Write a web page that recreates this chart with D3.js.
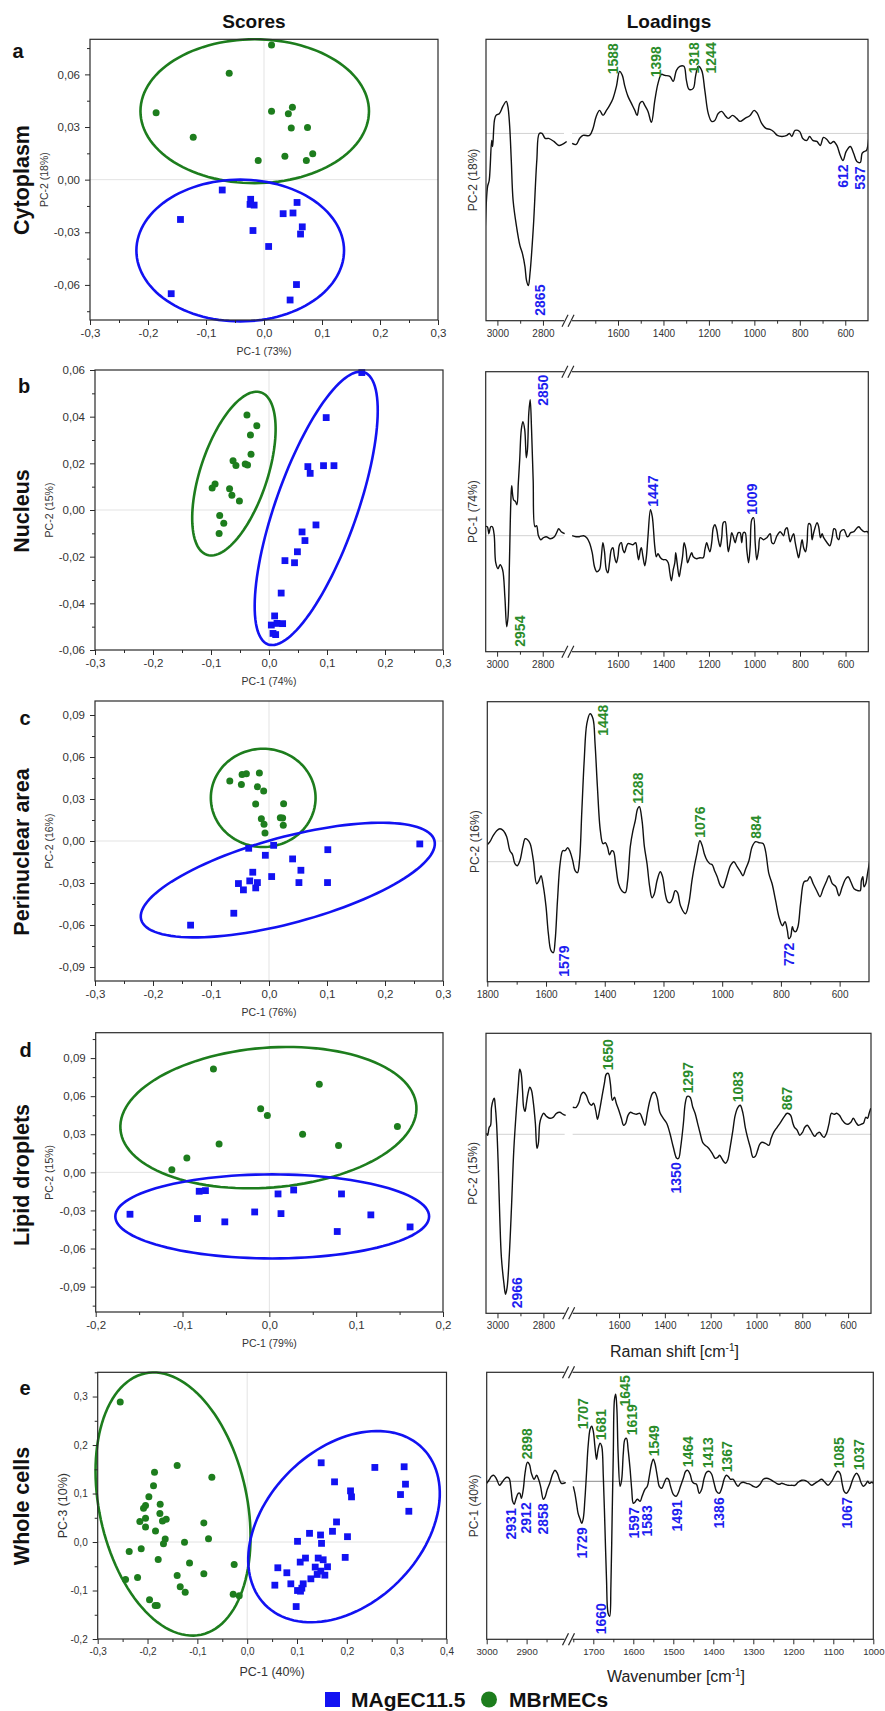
<!DOCTYPE html>
<html>
<head>
<meta charset="utf-8">
<script src="https://cdn.jsdelivr.net/npm/d3@7"></script>
<style>
  body { margin: 0; background: #fff; }
  svg { display: block; font-family: "Liberation Sans", Arial, sans-serif; }
</style>
</head>
<body>
<div id="chart"></div>
<script>
// ---------- scores (PC-x, PC-y) ----------
let aGreen = [[0.013,0.0768],[-0.060,0.0606],[-0.186,0.0381],[-0.122,0.0242],[0.013,0.039],[0.049,0.0413],[0.042,0.0375],[0.047,0.0295],[0.075,0.0297],[0.036,0.0133],[0.084,0.0147],[0.073,0.0109],[-0.010,0.0109]];
let aBlue = [[-0.072,-0.0059],[-0.144,-0.0227],[-0.023,-0.0112],[-0.024,-0.0141],[-0.017,-0.0145],[-0.019,-0.029],[-0.160,-0.065],[0.008,-0.0381],[0.033,-0.0194],[0.050,-0.019],[0.057,-0.013],[0.066,-0.0269],[0.063,-0.031],[0.056,-0.0598],[0.045,-0.0686]];
let aEllipses = [{grp:"g", c:[-0.016,0.039], u:[0.197,0], v:[0,0.041]}, {grp:"b", c:[-0.041,-0.0404], u:[0.179,0], v:[0,0.0404]}];

let bGreen = [[-0.038,0.0407],[-0.021,0.0361],[-0.032,0.0321],[-0.031,0.0239],[-0.062,0.0211],[-0.057,0.0191],[-0.041,0.0197],[-0.037,0.0193],[-0.093,0.0111],[-0.098,0.0094],[-0.068,0.0091],[-0.064,0.0063],[-0.051,0.0039],[-0.085,-0.0024],[-0.078,-0.0057],[-0.086,-0.0101]];
let bBlue = [[0.160,0.0589],[0.0986,0.0396],[0.067,0.0186],[0.071,0.0157],[0.094,0.019],[0.112,0.019],[0.081,-0.0064],[0.057,-0.0094],[0.062,-0.0131],[0.049,-0.0179],[0.044,-0.0226],[0.0275,-0.0217],[0.021,-0.0356],[0.0097,-0.0454],[0.004,-0.0493],[0.0138,-0.0486],[0.0235,-0.0487],[0.0069,-0.0529],[0.0115,-0.0534]];
let bEllipses = [{grp:"g", c:[-0.0605,0.0156], u:[0.0467,0.0348], v:[0.0547,-0.0046]}, {grp:"b", c:[0.0814,0.0007], u:[0.0829,0.0583], v:[0.0662,-0.0058]}];

let cGreen = [[-0.0676,0.0428],[-0.0464,0.0475],[-0.039,0.048],[-0.0166,0.0485],[-0.0476,0.0404],[-0.020,0.0387],[-0.0092,0.0357],[-0.023,0.0264],[0.0252,0.0266],[-0.0132,0.0159],[-0.0086,0.0119],[0.0195,0.0166],[0.0235,0.0164],[0.0246,0.0112],[-0.0069,0.0057]];
let cBlue = [[0.260,-0.0021],[-0.035,-0.0052],[0.008,-0.0031],[-0.0063,-0.0102],[0.0407,-0.0128],[0.1014,-0.0062],[0.055,-0.0209],[-0.028,-0.0223],[0.0046,-0.0254],[-0.0527,-0.0304],[-0.0332,-0.0285],[-0.020,-0.0297],[-0.0229,-0.0335],[-0.0441,-0.0349],[0.0516,-0.0297],[0.1009,-0.0297],[-0.0607,-0.0516],[-0.1352,-0.0601]];
let cEllipses = [{grp:"g", c:[-0.010,0.0308], u:[0.0903,0], v:[0,0.0351]}, {grp:"b", c:[0.0324,-0.0279], u:[0.2528,0.0283], v:[0.0193,-0.0296]}];

let dGreen = [[-0.0644,0.0815],[0.0575,0.0694],[-0.010,0.050],[-0.0023,0.0448],[0.1475,0.0362],[0.0383,0.0301],[-0.0579,0.0223],[0.0797,0.0212],[-0.095,0.0113],[-0.1123,0.0021]];
let dBlue = [[-0.1605,-0.033],[-0.0808,-0.0149],[-0.0736,-0.0144],[-0.0828,-0.0364],[-0.0513,-0.039],[-0.0169,-0.0312],[0.010,-0.017],[0.0134,-0.0325],[0.028,-0.0139],[0.0831,-0.017],[0.0782,-0.0466],[0.1169,-0.0335],[0.1621,-0.043]];
let dEllipses = [{grp:"g", c:[-0.0011,0.0431], u:[0.1704,0.0093], v:[0.0064,-0.0549]}, {grp:"b", c:[0.0033,-0.0347], u:[0.1807,0], v:[0,0.0331]}];

let eGreen = [[-0.2548,0.289],[-0.186,0.1441],[-0.1405,0.158],[-0.0709,0.1338],[-0.188,0.1159],[-0.1973,0.0931],[-0.1746,0.0779],[-0.204,0.0752],[-0.208,0.0697],[-0.1752,0.0586],[-0.2154,0.0421],[-0.204,0.049],[-0.170,0.0434],[-0.1625,0.0469],[-0.204,0.031],[-0.184,0.0228],[-0.087,0.0393],[-0.1645,0.0062],[-0.168,-0.0034],[-0.1258,-0.0007],[-0.0776,0.0069],[-0.2368,-0.0193],[-0.2127,-0.0138],[-0.1786,-0.0359],[-0.1157,-0.0434],[-0.0261,-0.0462],[-0.2441,-0.0772],[-0.220,-0.0731],[-0.1405,-0.069],[-0.087,-0.0655],[-0.1344,-0.0924],[-0.1244,-0.1034],[-0.0281,-0.1076],[-0.016,-0.111],[-0.196,-0.1193],[-0.1846,-0.131],[-0.1806,-0.131]];
let eBlue = [[0.1485,0.1634],[0.2562,0.1538],[0.315,0.1552],[0.1753,0.1241],[0.3177,0.1193],[0.2074,0.1055],[0.2094,0.0931],[0.3077,0.0979],[0.3244,0.0634],[0.1793,0.0414],[0.1712,0.0221],[0.2013,0.011],[0.1251,0.0179],[0.1472,0.0145],[0.1492,-0.0028],[0.101,0.0014],[0.1967,-0.0317],[0.117,-0.0331],[0.1425,-0.0331],[0.1525,-0.0366],[0.1064,-0.0414],[0.1365,-0.0517],[0.1612,-0.051],[0.0615,-0.0531],[0.1478,-0.06],[0.0796,-0.0634],[0.1405,-0.0669],[0.1559,-0.0683],[0.1278,-0.0759],[0.0876,-0.0862],[0.1124,-0.0862],[0.0555,-0.089],[0.1097,-0.0952],[0.101,-0.1],[0.107,-0.1014],[0.0983,-0.1331]];
let eEllipses = [{grp:"g", c:[-0.1488,0.0783], u:[-0.0565,0.2694], v:[-0.1449,-0.0323]}, {grp:"b", c:[0.1943,0.0317], u:[0.1585,0.161], v:[-0.1088,0.1139]}];

// ---------- loadings [wavenumber, loading] ----------
let aLoad = [[3054,-0.100],[3043,-0.053],[3036,-0.047],[3025,-0.007],[3021,-0.013],[3013,0.013],[3006,0.018],[2991,0.020],[2976,0.027],[2961,0.032],[2954,0.027],[2946,0.007],[2939,-0.027],[2931,-0.067],[2916,-0.093],[2901,-0.112],[2890,-0.120],[2879,-0.133],[2872,-0.147],[2864,-0.152],[2857,-0.140],[2842,-0.093],[2827,-0.027],[2816,0.000],[2804,0.000],[2790,-0.005],[2775,-0.005],[2752,-0.008],[2730,-0.012],[2715,-0.011],[2696,-0.008],
  [1802,-0.010],[1784,-0.011],[1769,-0.005],[1754,-0.002],[1725,-0.002],[1710,0.005],[1696,0.017],[1681,0.023],[1666,0.018],[1651,0.023],[1637,0.028],[1622,0.035],[1607,0.047],[1593,0.062],[1581,0.058],[1571,0.048],[1556,0.037],[1541,0.030],[1526,0.023],[1516,0.018],[1504,0.030],[1493,0.032],[1482,0.028],[1468,0.022],[1453,0.011],[1438,0.033],[1424,0.050],[1409,0.059],[1394,0.058],[1372,0.057],[1357,0.052],[1343,0.063],[1328,0.067],[1310,0.067],[1299,0.053],[1287,0.044],[1269,0.045],[1259,0.057],[1247,0.067],[1232,0.063],[1218,0.043],[1203,0.020],[1188,0.012],[1174,0.013],[1159,0.020],[1144,0.022],[1129,0.018],[1115,0.015],[1096,0.018],[1078,0.015],[1063,0.012],[1041,0.015],[1019,0.018],[1001,0.023],[987,0.020],[968,0.010],[949,0.005],[931,0.004],[916,0.002],[899,-0.002],[879,-0.003],[857,-0.002],[846,0.000],[835,-0.003],[821,0.003],[801,0.002],[787,-0.005],[769,-0.007],[757,-0.003],[743,-0.007],[725,-0.008],[710,-0.012],[696,-0.004],[681,-0.006],[666,-0.010],[651,-0.008],[637,-0.012],[622,-0.022],[610,-0.027],[596,-0.018],[578,-0.013],[563,-0.020],[549,-0.028],[534,-0.029],[526,-0.020],[516,-0.018],[507,-0.017],[497,-0.005]];

let bLoad = [[3055,0.009],[3043,0.009],[3036,0.002],[3028,0.009],[3021,0.009],[3013,0.001],[3006,-0.027],[2996,-0.033],[2987,-0.029],[2976,-0.034],[2966,-0.061],[2958,-0.091],[2952,-0.081],[2946,-0.027],[2940,0.033],[2936,0.050],[2928,0.036],[2919,0.034],[2913,0.031],[2907,0.053],[2901,0.076],[2894,0.106],[2887,0.114],[2879,0.106],[2872,0.078],[2867,0.086],[2861,0.123],[2855,0.136],[2849,0.106],[2842,0.056],[2834,0.009],[2827,0.010],[2819,0.000],[2809,-0.004],[2797,-0.002],[2785,-0.001],[2767,-0.003],[2749,-0.001],[2737,0.004],[2730,0.007],[2719,0.004],[2704,0.002],
  [1801,0],[1784,-0.001],[1769,-0.001],[1751,0],[1737,-0.002],[1725,-0.007],[1713,-0.017],[1703,-0.031],[1693,-0.036],[1681,-0.034],[1674,-0.024],[1666,-0.007],[1659,-0.016],[1651,-0.034],[1644,-0.037],[1637,-0.027],[1629,-0.014],[1622,-0.012],[1615,-0.021],[1607,-0.027],[1600,-0.021],[1593,-0.009],[1585,-0.007],[1578,-0.014],[1571,-0.017],[1563,-0.011],[1556,-0.008],[1549,-0.008],[1534,-0.009],[1522,-0.007],[1515,-0.017],[1509,-0.024],[1501,-0.014],[1497,-0.012],[1490,-0.021],[1482,-0.030],[1475,-0.021],[1468,-0.001],[1457,0.026],[1449,0.019],[1438,-0.011],[1431,-0.021],[1424,-0.018],[1413,-0.022],[1401,-0.024],[1390,-0.024],[1379,-0.027],[1372,-0.037],[1365,-0.045],[1357,-0.034],[1350,-0.027],[1346,-0.017],[1340,-0.027],[1331,-0.041],[1325,-0.034],[1316,-0.021],[1309,-0.007],[1301,-0.014],[1294,-0.027],[1284,-0.021],[1276,-0.017],[1269,-0.021],[1254,-0.023],[1240,-0.022],[1225,-0.022],[1218,-0.014],[1210,-0.007],[1203,-0.012],[1196,-0.016],[1188,-0.007],[1181,0.008],[1174,0.011],[1166,0.006],[1159,-0.004],[1151,-0.011],[1144,-0.002],[1137,0.013],[1129,0.014],[1122,0.001],[1115,-0.016],[1107,-0.007],[1100,0.003],[1093,-0.001],[1085,-0.007],[1078,-0.001],[1071,0.003],[1063,0.003],[1056,-0.007],[1049,0.003],[1041,0.003],[1034,-0.014],[1026,-0.027],[1019,-0.011],[1012,0.016],[1004,0.018],[997,-0.007],[990,-0.024],[982,-0.014],[975,-0.002],[960,-0.004],[946,-0.002],[931,0.002],[924,-0.007],[916,-0.008],[901,0],[887,0.004],[872,0],[865,0.006],[857,0.008],[850,0.001],[843,-0.006],[835,-0.001],[828,0.002],[821,-0.007],[813,-0.016],[806,-0.022],[799,-0.014],[791,-0.004],[784,-0.012],[776,-0.016],[769,-0.007],[762,0.012],[754,0.011],[747,-0.004],[740,0.003],[725,0.013],[718,0.009],[710,-0.002],[703,0.002],[696,-0.002],[681,-0.007],[669,-0.010],[659,-0.002],[651,0.007],[644,0.006],[637,-0.002],[629,-0.004],[622,0.004],[607,0.006],[600,0.003],[593,-0.001],[585,0],[578,0.003],[563,0.004],[549,0.008],[541,0.009],[534,0.007],[519,0.004],[504,0.004],[497,0.001]];

let cLoad = [[1800,0.017],[1791,0.020],[1780,0.026],[1768,0.031],[1757,0.033],[1745,0.031],[1734,0.025],[1723,0.011],[1714,0.007],[1706,-0.002],[1698,-0.004],[1689,0.001],[1679,0.015],[1671,0.023],[1663,0.022],[1654,0.018],[1643,0.001],[1632,-0.022],[1624,-0.019],[1617,-0.014],[1609,-0.025],[1600,-0.045],[1592,-0.072],[1583,-0.089],[1575,-0.091],[1569,-0.079],[1561,-0.039],[1552,-0.002],[1543,0.011],[1535,0.011],[1526,0.014],[1518,0.010],[1509,0.001],[1501,-0.009],[1493,-0.011],[1486,0.001],[1478,0.051],[1470,0.101],[1461,0.138],[1450,0.148],[1440,0.143],[1433,0.118],[1425,0.075],[1415,0.031],[1406,0.018],[1398,0.019],[1390,0.014],[1384,0.007],[1376,0.011],[1370,0.010],[1362,-0.005],[1353,-0.022],[1342,-0.029],[1330,-0.031],[1322,-0.019],[1313,0.015],[1304,0.031],[1296,0.041],[1288,0.053],[1282,0.055],[1273,0.041],[1265,0.015],[1256,-0.002],[1247,-0.025],[1239,-0.036],[1231,-0.032],[1222,-0.019],[1211,-0.010],[1203,-0.015],[1194,-0.032],[1186,-0.040],[1177,-0.041],[1169,-0.037],[1160,-0.029],[1152,-0.031],[1142,-0.044],[1125,-0.052],[1114,-0.042],[1103,-0.019],[1095,-0.005],[1086,0.008],[1076,0.021],[1068,0.016],[1061,0.008],[1051,0.001],[1042,-0.002],[1034,-0.003],[1026,-0.009],[1017,-0.015],[1006,-0.024],[997,-0.026],[989,-0.020],[981,-0.012],[972,-0.004],[960,0],[949,-0.005],[938,-0.010],[929,-0.014],[921,-0.008],[909,0.001],[898,0.015],[886,0.020],[875,0.019],[860,0.018],[852,0.010],[841,-0.012],[830,-0.022],[818,-0.039],[807,-0.055],[795,-0.064],[786,-0.060],[778,-0.069],[773,-0.077],[767,-0.075],[761,-0.065],[756,-0.069],[750,-0.070],[742,-0.065],[733,-0.042],[721,-0.020],[710,-0.019],[701,-0.015],[690,-0.022],[678,-0.029],[667,-0.035],[656,-0.027],[644,-0.019],[636,-0.014],[625,-0.022],[613,-0.025],[602,-0.034],[591,-0.025],[579,-0.017],[571,-0.015],[562,-0.020],[551,-0.027],[537,-0.029],[530,-0.029],[526,-0.019],[521,-0.015],[517,-0.025],[511,-0.022],[505,-0.012],[498,0]];

let dLoad = [[3048,0.001],[3043,-0.001],[3036,0.007],[3030,0.009],[3026,0.027],[3019,0.034],[3014,0.036],[3010,0.029],[3004,0.011],[2997,-0.029],[2990,-0.083],[2983,-0.123],[2972,-0.149],[2965,-0.160],[2958,-0.153],[2949,-0.123],[2939,-0.073],[2929,-0.016],[2917,0.027],[2909,0.051],[2903,0.065],[2897,0.061],[2891,0.044],[2886,0.027],[2880,0.023],[2874,0.031],[2867,0.041],[2859,0.047],[2852,0.044],[2845,0.034],[2835,0.011],[2828,-0.014],[2822,-0.009],[2816,0.011],[2809,0.017],[2799,0.021],[2787,0.018],[2772,0.016],[2758,0.017],[2743,0.021],[2729,0.022],[2714,0.020],[2703,0.019],
  [1802,0.027],[1787,0.027],[1775,0.032],[1765,0.040],[1755,0.042],[1743,0.039],[1732,0.032],[1721,0.029],[1711,0.031],[1702,0.024],[1694,0.015],[1685,0.024],[1675,0.037],[1664,0.051],[1656,0.060],[1647,0.061],[1638,0.051],[1629,0.034],[1620,0.037],[1612,0.031],[1601,0.024],[1590,0.016],[1580,0.009],[1571,0.011],[1561,0.019],[1550,0.022],[1539,0.021],[1524,0.020],[1509,0.021],[1499,0.016],[1487,0.009],[1477,0.021],[1465,0.034],[1454,0.041],[1444,0.042],[1433,0.036],[1422,0.022],[1407,0.016],[1392,0.011],[1378,0.001],[1363,-0.013],[1348,-0.024],[1340,-0.024],[1331,-0.013],[1319,0.011],[1311,0.031],[1302,0.038],[1290,0.037],[1278,0.027],[1268,0.021],[1258,0.012],[1246,0.001],[1235,-0.008],[1224,-0.011],[1213,-0.013],[1202,-0.016],[1191,-0.020],[1180,-0.024],[1169,-0.023],[1161,-0.021],[1154,-0.023],[1144,-0.027],[1135,-0.029],[1126,-0.026],[1115,-0.013],[1103,0.004],[1093,0.019],[1081,0.027],[1071,0.029],[1059,0.021],[1049,0.007],[1039,-0.003],[1027,-0.013],[1015,-0.023],[1005,-0.022],[995,-0.016],[986,-0.010],[976,-0.008],[961,-0.009],[946,-0.011],[936,-0.004],[925,0.002],[910,0.007],[895,0.012],[881,0.017],[866,0.021],[851,0.019],[841,0.011],[834,0.007],[822,0.004],[811,-0.001],[799,0.002],[789,0.007],[778,0.009],[768,0.006],[756,0.001],[746,-0.002],[734,0.001],[724,0.002],[715,-0.001],[705,-0.003],[694,0.001],[683,0.011],[673,0.021],[661,0.020],[650,0.021],[638,0.019],[625,0.014],[613,0.011],[600,0.010],[588,0.012],[577,0.016],[566,0.012],[555,0.009],[544,0.010],[533,0.011],[523,0.017],[515,0.016],[508,0.021],[501,0.026]];

let eLoad = [[3000,-0.002],[2993,0.002],[2988,0.005],[2982,0.006],[2975,0.002],[2968,-0.004],[2963,-0.002],[2956,0.002],[2950,0.004],[2944,0.003],[2939,-0.008],[2935,-0.020],[2931,-0.023],[2927,-0.018],[2921,-0.012],[2917,-0.012],[2913,-0.017],[2908,-0.007],[2904,0.008],[2898,0.019],[2893,0.017],[2888,0.008],[2881,0.002],[2875,0.006],[2870,0.002],[2865,-0.005],[2858,-0.018],[2854,-0.016],[2848,-0.008],[2842,-0.002],[2835,0.007],[2829,0.011],[2823,0.008],[2818,0.002],[2813,-0.002],[2807,-0.002],[2802,-0.001],
  [1750,-0.005],[1746,-0.012],[1742,-0.022],[1738,-0.032],[1733,-0.038],[1729,-0.042],[1725,-0.037],[1721,-0.018],[1717,0.008],[1713,0.035],[1708,0.052],[1704,0.055],[1700,0.050],[1696,0.035],[1692,0.022],[1688,0.032],[1683,0.038],[1679,0.035],[1675,0.005],[1671,-0.045],[1667,-0.098],[1663,-0.132],[1659,-0.135],[1656,-0.105],[1653,-0.038],[1650,0.028],[1647,0.082],[1644,0.087],[1641,0.072],[1638,0.028],[1633,-0.005],[1629,0.002],[1625,0.028],[1621,0.042],[1617,0.043],[1613,0.032],[1608,0.012],[1604,-0.008],[1600,-0.022],[1596,-0.021],[1590,-0.018],[1583,-0.020],[1578,-0.015],[1571,-0.008],[1565,-0.005],[1560,0.005],[1554,0.018],[1550,0.022],[1546,0.018],[1540,0.005],[1535,-0.005],[1529,-0.007],[1523,-0.002],[1517,0.003],[1512,0.002],[1507,-0.005],[1500,-0.013],[1493,-0.015],[1488,-0.012],[1482,-0.005],[1475,0.003],[1469,0.010],[1464,0.011],[1458,0.007],[1453,0],[1448,-0.002],[1442,-0.003],[1435,-0.012],[1429,-0.008],[1423,0.003],[1417,0.009],[1410,0.010],[1404,0.007],[1398,-0.002],[1392,-0.010],[1385,-0.012],[1379,-0.007],[1373,0.002],[1368,0.006],[1363,0.005],[1357,0.002],[1350,0.002],[1344,-0.002],[1338,-0.005],[1332,-0.002],[1325,-0.001],[1317,-0.002],[1308,-0.003],[1300,-0.005],[1292,-0.006],[1283,-0.003],[1275,0.002],[1267,0.003],[1258,0.002],[1250,0],[1242,-0.002],[1235,-0.003],[1229,-0.002],[1221,-0.003],[1213,-0.004],[1204,-0.004],[1196,-0.004],[1188,-0.001],[1179,0.001],[1171,0.001],[1163,-0.001],[1154,-0.004],[1146,-0.002],[1138,0],[1129,0.002],[1121,-0.001],[1113,-0.004],[1104,0],[1096,0.006],[1089,0.010],[1083,0.008],[1078,-0.002],[1073,-0.010],[1067,-0.012],[1060,-0.008],[1053,0],[1048,0.005],[1042,0.008],[1036,0.005],[1031,-0.001],[1025,-0.005],[1019,-0.003],[1014,0],[1010,-0.002],[1004,-0.001],[1000,-0.002]];

// band labels: [wavenumber, group, placement]
let aPeaks = [[1588,"g","lup"],[1398,"g","lup"],[1318,"g","rtop"],[1244,"g","rtop"],[2865,"b","rbot"],[612,"b","down"],[537,"b","down"]];
let bPeaks = [[2954,"g","rbot"],[2850,"b","rtop"],[1447,"b","up"],[1009,"b","up"]];
let cPeaks = [[1448,"g","rtop"],[1288,"g","up"],[1076,"g","up"],[884,"g","up"],[1579,"b","rbot"],[772,"b","down"]];
let dPeaks = [[1650,"g","up"],[1297,"g","up"],[1083,"g","up"],[867,"g","up"],[1350,"b","down"],[2966,"b","rbot"]];
let ePeaks = [[2898,"g","up"],[1707,"g","lup"],[1681,"g","up"],[1645,"g","rtop"],[1619,"g","up"],[1549,"g","up"],[1464,"g","up"],[1413,"g","up"],[1367,"g","up"],[1085,"g","up"],[1037,"g","up"],
  [2931,"b","down"],[2912,"b","down"],[2858,"b","down"],[1729,"b","down"],[1660,"b","lbot"],[1597,"b","down"],[1583,"b","down"],[1491,"b","down"],[1386,"b","down"],[1067,"b","down"]];

let rowNames = ["Cytoplasm", "Nucleus", "Perinuclear area", "Lipid droplets", "Whole cells"];
let panelLetters = ["a", "b", "c", "d", "e"];
let groupNames = ["MAgEC11.5", "MBrMECs"];

// ---------- styling / layout ----------
let blue = "#1212f2", green = "#1d7d1d";
let blueTxt = "#1e1ef0", greenTxt = "#2b8c2b";
let ink = "#2a2a2a";

let svg = d3.select("#chart").append("svg")
  .attr("width", 885).attr("height", 1711);

function fmt(v, n) {
  return (v < -1e-9 ? "-" : "") + Math.abs(v).toFixed(n).replace(".", ",");
}
function ticksFrom(d0, d1, step) {
  let out = [];
  for (let k = Math.ceil(d0 / step - 1e-6); k * step <= d1 + 1e-6; k++) out.push(+(k * step).toFixed(4));
  return out;
}
function minorFrom(d0, d1, step) {
  let maj = ticksFrom(d0, d1, step).map(v => v.toFixed(4));
  return ticksFrom(d0, d1, step / 2).filter(v => !maj.includes(v.toFixed(4)));
}

let scorePanels = [
  {box:[90,39.3,438,320], xDom:[-0.3,0.3], yDom:[-0.08,0.08], yStep:0.03, yDec:2, xlab:"PC-1 (73%)", ylab:"PC-2 (18%)", green:aGreen, blue:aBlue, ell:aEllipses},
  {box:[95,370,443,650], xDom:[-0.3,0.3], yDom:[-0.06,0.06], yStep:0.02, yDec:2, xlab:"PC-1 (74%)", ylab:"PC-2 (15%)", green:bGreen, blue:bBlue, ell:bEllipses},
  {box:[95,701,443,981], xDom:[-0.3,0.3], yDom:[-0.1,0.1], yStep:0.03, yDec:2, xlab:"PC-1 (76%)", ylab:"PC-2 (16%)", green:cGreen, blue:cBlue, ell:cEllipses},
  {box:[95.7,1032.7,443,1312], xDom:[-0.2,0.2], yDom:[-0.11,0.11], yStep:0.03, yDec:2, xlab:"PC-1 (79%)", ylab:"PC-2 (15%)", green:dGreen, blue:dBlue, ell:dEllipses},
  {box:[97.7,1372.3,446.5,1639], xDom:[-0.3,0.4], yDom:[-0.2,0.35], yStep:0.1, yDec:1, xlab:"PC-1 (40%)", ylab:"PC-3 (10%)", green:eGreen, blue:eBlue, ell:eEllipses, big:true}
];

scorePanels.forEach(p => {
  let [l, t, r, b] = p.box;
  let x = d3.scaleLinear().domain(p.xDom).range([l, r]);
  let y = d3.scaleLinear().domain(p.yDom).range([b, t]);
  let g = svg.append("g");
  let tickFs = p.big ? 10 : 11.5, labFs = p.big ? 12.5 : 10.5;

  g.append("line").attr("x1", x(0)).attr("x2", x(0)).attr("y1", t).attr("y2", b).attr("stroke", "#e3e3e3");
  g.append("line").attr("x1", l).attr("x2", r).attr("y1", y(0)).attr("y2", y(0)).attr("stroke", "#e3e3e3");

  let ellLine = d3.line().x(d => x(d[0])).y(d => y(d[1])).curve(d3.curveLinearClosed);
  p.ell.forEach(e => {
    let pts = d3.range(0, 120).map(i => {
      let a = i / 120 * 2 * Math.PI;
      return [e.c[0] + e.u[0] * Math.cos(a) + e.v[0] * Math.sin(a), e.c[1] + e.u[1] * Math.cos(a) + e.v[1] * Math.sin(a)];
    });
    g.append("path").attr("d", ellLine(pts)).attr("fill", "none")
      .attr("stroke", e.grp == "g" ? green : blue).attr("stroke-width", 2.6);
  });

  let sq = 6.8;
  g.selectAll("rect.pt").data(p.blue).join("rect").attr("class", "pt")
    .attr("x", d => x(d[0]) - sq / 2).attr("y", d => y(d[1]) - sq / 2)
    .attr("width", sq).attr("height", sq).attr("fill", blue);
  g.selectAll("circle.pt").data(p.green).join("circle").attr("class", "pt")
    .attr("cx", d => x(d[0])).attr("cy", d => y(d[1])).attr("r", 3.5).attr("fill", green);

  g.append("rect").attr("x", l).attr("y", t).attr("width", r - l).attr("height", b - t)
    .attr("fill", "none").attr("stroke", ink).attr("stroke-width", 1.2);

  let xAx = g.append("g").attr("transform", "translate(0," + b + ")")
    .call(d3.axisBottom(x).tickValues(ticksFrom(p.xDom[0], p.xDom[1], 0.1)).tickSize(5).tickSizeOuter(0).tickPadding(4).tickFormat(v => fmt(v, 1)));
  let xMin = g.append("g").attr("transform", "translate(0," + b + ")")
    .call(d3.axisBottom(x).tickValues(minorFrom(p.xDom[0], p.xDom[1], 0.1)).tickSize(3).tickSizeOuter(0).tickFormat(""));
  let yAx = g.append("g").attr("transform", "translate(" + l + ",0)")
    .call(d3.axisLeft(y).tickValues(ticksFrom(p.yDom[0], p.yDom[1], p.yStep)).tickSize(5).tickSizeOuter(0).tickPadding(5).tickFormat(v => fmt(v, p.yDec)));
  let yMin = g.append("g").attr("transform", "translate(" + l + ",0)")
    .call(d3.axisLeft(y).tickValues(minorFrom(p.yDom[0], p.yDom[1], p.yStep)).tickSize(3).tickSizeOuter(0).tickFormat(""));
  [xAx, xMin, yAx, yMin].forEach(a => {
    a.select(".domain").remove();
    a.selectAll("line").attr("stroke", ink);
    a.selectAll("text").attr("font-size", tickFs).attr("fill", "#333").attr("font-family", "Liberation Sans, Arial, sans-serif");
  });

  g.append("text").attr("x", (l + r) / 2).attr("y", b + (p.big ? 37 : 34.5)).attr("text-anchor", "middle")
    .attr("font-size", labFs).attr("fill", "#333").text(p.xlab);
  g.append("text").attr("transform", "translate(" + (l - (p.big ? 35 : 46)) + "," + ((t + b) / 2) + ") rotate(-90)")
    .attr("dy", "0.36em").attr("text-anchor", "middle").attr("font-size", labFs).attr("fill", "#333").text(p.ylab);
});

// ---------- loadings ----------
let bigSeg = [
  {dom:[3050,2690], f:[0,0.2147], maj:[3000,2800], min:[2900]},
  {dom:[1820,500], f:[0.2147,1], maj:[1600,1400,1200,1000,800,600], min:[1700,1500,1300,1100,900,700]}
];
let loadPanels = [
  {box:[486,39.3,868,320.7], yDom:[-0.187,0.094], segs:bigSeg, brTop:false, brBot:true, ylab:"PC-2 (18%)", data:aLoad, peaks:aPeaks},
  {box:[485.7,371.7,868.3,651.7], yDom:[-0.116,0.164], segs:bigSeg, brTop:true, brBot:true, ylab:"PC-1 (74%)", data:bLoad, peaks:bPeaks},
  {box:[487.3,701.7,869,981.7], yDom:[-0.12,0.16], segs:[{dom:[1800,500], f:[0,1], maj:[1800,1600,1400,1200,1000,800,600], min:[1700,1500,1300,1100,900,700]}], brTop:false, brBot:false, ylab:"PC-2 (16%)", data:cLoad, peaks:cPeaks},
  {box:[486,1033.3,871,1313.3], yDom:[-0.179,0.101], segs:bigSeg, brTop:false, brBot:true, ylab:"PC-2 (15%)", data:dLoad, peaks:dPeaks, title:"Raman shift"},
  {box:[486.7,1372.3,873.3,1639.3], yDom:[-0.158,0.109], segs:[
      {dom:[3000,2795], f:[0,0.2116], maj:[3000,2900], min:[2950,2850]},
      {dom:[1762,1000], f:[0.2116,1], maj:[1700,1600,1500,1400,1300,1200,1100,1000], min:[1750,1650,1550,1450,1350,1250,1150,1050]}],
    brTop:true, brBot:true, ylab:"PC-1 (40%)", data:eLoad, peaks:ePeaks, zeroDark:true, small:true, title:"Wavenumber"}
];

// small sideways shifts so crowded band labels in panel e do not collide
let labelNudge = {2931: -3, 2912: 4, 1583: 7, 1597: -1, 1645: -2, 1619: 6};

loadPanels.forEach((p, pi) => {
  let [l, t, r, b] = p.box;
  let y = d3.scaleLinear().domain(p.yDom).range([b, t]);
  let g = svg.append("g");
  let clipId = "clip" + pi;
  g.append("clipPath").attr("id", clipId).append("rect").attr("x", l).attr("y", t).attr("width", r - l).attr("height", b - t);

  let segs = p.segs.map(s => Object.assign({}, s, {
    sc: d3.scaleLinear().domain(s.dom).range([l + s.f[0] * (r - l), l + s.f[1] * (r - l)]),
    lo: Math.min(s.dom[0], s.dom[1]) - 15, hi: Math.max(s.dom[0], s.dom[1]) + 15
  }));
  let xOf = wn => segs.find(s => wn >= s.lo && wn <= s.hi).sc(wn);
  let multi = segs.length > 1;

  // zero line
  segs.forEach((s, i) => {
    let [x0, x1] = s.sc.range();
    if (multi && i == 0) x1 -= 4;
    if (multi && i == segs.length - 1) x0 += 4;
    g.append("line").attr("x1", x0).attr("x2", x1).attr("y1", y(0)).attr("y2", y(0))
      .attr("stroke", p.zeroDark ? "#8a8a8a" : "#d2d2d2").attr("stroke-width", 1);
  });

  // spectrum
  let line = d3.line().curve(d3.curveCatmullRom.alpha(0.5));
  segs.forEach(s => {
    let pts = p.data.filter(d => d[0] >= s.lo && d[0] <= s.hi).map(d => [s.sc(d[0]), y(d[1])]);
    g.append("path").attr("d", line(pts)).attr("fill", "none").attr("stroke", "#111")
      .attr("stroke-width", 1.4).attr("clip-path", "url(#" + clipId + ")");
  });

  g.append("rect").attr("x", l).attr("y", t).attr("width", r - l).attr("height", b - t)
    .attr("fill", "none").attr("stroke", ink).attr("stroke-width", 1.2);

  let tickFs = p.small ? 9.6 : 10;
  segs.forEach(s => {
    let maj = g.append("g").attr("transform", "translate(0," + b + ")")
      .call(d3.axisBottom(s.sc).tickValues(s.maj).tickSize(5).tickSizeOuter(0).tickPadding(4).tickFormat(d3.format("d")));
    let mn = g.append("g").attr("transform", "translate(0," + b + ")")
      .call(d3.axisBottom(s.sc).tickValues(s.min).tickSize(3).tickSizeOuter(0).tickFormat(""));
    [maj, mn].forEach(a => {
      a.select(".domain").remove();
      a.selectAll("line").attr("stroke", ink);
      a.selectAll("text").attr("font-size", tickFs).attr("fill", "#333").attr("font-family", "Liberation Sans, Arial, sans-serif");
    });
  });

  // axis breaks
  if (multi) {
    let xb = segs[0].sc.range()[1];
    let marks = [];
    if (p.brTop) marks.push(t);
    if (p.brBot) marks.push(b);
    marks.forEach(yy => {
      g.append("rect").attr("x", xb - 4).attr("y", yy - 2).attr("width", 8).attr("height", 4).attr("fill", "#fff");
      [-3, 3].forEach(off => {
        g.append("line").attr("x1", xb + off - 3).attr("y1", yy + 6).attr("x2", xb + off + 3).attr("y2", yy - 6)
          .attr("stroke", ink).attr("stroke-width", 1.2);
      });
    });
  }

  g.append("text").attr("transform", "translate(" + (l - 13) + "," + ((t + b) / 2) + ") rotate(-90)")
    .attr("dy", "0.36em").attr("text-anchor", "middle").attr("font-size", 12).attr("fill", "#333").text(p.ylab);

  // band labels
  p.peaks.forEach(pk => {
    let [wn, grp, kind] = pk;
    let win = p.data.filter(d => Math.abs(d[0] - wn) <= 12);
    let up = kind == "up" || kind == "lup";
    let ext = up ? d3.max(win, d => d[1]) : d3.min(win, d => d[1]);
    let px = xOf(wn), xx = px, yy = 0, anchor = "start";
    if (kind == "up") { yy = y(ext) - 3; anchor = "start"; }
    else if (kind == "down") { yy = y(ext) + 4; anchor = "end"; }
    else if (kind == "lup") { xx = px - 8; yy = y(ext) + 3; anchor = "start"; }
    else if (kind == "rtop") { xx = px + 12; yy = t + 3; anchor = "end"; }
    else if (kind == "rbot") { xx = px + 12; yy = b - 5; anchor = "start"; }
    else if (kind == "lbot") { xx = px - 8; yy = b - 5; anchor = "start"; }
    xx += (labelNudge[wn] || 0) * (p.small ? 1 : 0);
    g.append("text").attr("transform", "translate(" + xx + "," + yy + ") rotate(-90)")
      .attr("dy", "0.36em").attr("text-anchor", anchor)
      .attr("font-size", 14).attr("font-weight", "bold")
      .attr("fill", grp == "g" ? greenTxt : blueTxt).text(wn);
  });

  if (p.title) {
    let tt = g.append("text").attr("x", (l + r) / 2 - 4).attr("y", b + (p.small ? 43 : 43.5)).attr("text-anchor", "middle")
      .attr("font-size", 16).attr("fill", "#222");
    tt.append("tspan").text(p.title + " [cm");
    tt.append("tspan").attr("font-size", 10).attr("dy", -6).text("-1");
    tt.append("tspan").attr("dy", 6).text("]");
  }
});

// ---------- titles, row labels ----------
svg.append("text").attr("x", 254).attr("y", 28).attr("text-anchor", "middle")
  .attr("font-size", 19).attr("font-weight", "bold").attr("fill", "#111").text("Scores");
svg.append("text").attr("x", 669).attr("y", 28).attr("text-anchor", "middle")
  .attr("font-size", 19).attr("font-weight", "bold").attr("fill", "#111").text("Loadings");

let rowY = [180, 511, 852, 1175, 1506];
let letterPos = [[12.5,58], [18,393], [19.5,725], [19.5,1056.5], [19.5,1395]];
rowNames.forEach((name, i) => {
  svg.append("text").attr("transform", "translate(21," + rowY[i] + ") rotate(-90)")
    .attr("dy", "0.36em").attr("text-anchor", "middle")
    .attr("font-size", 21.5).attr("font-weight", "bold").attr("fill", "#111").text(name);
  svg.append("text").attr("x", letterPos[i][0]).attr("y", letterPos[i][1])
    .attr("font-size", 20).attr("font-weight", "bold").attr("fill", "#111").text(panelLetters[i]);
});

// ---------- legend ----------
let leg = svg.append("g");
leg.append("rect").attr("x", 325).attr("y", 1692).attr("width", 15).attr("height", 15).attr("fill", blue);
leg.append("text").attr("x", 351).attr("y", 1707).attr("font-size", 21).attr("font-weight", "bold").attr("fill", "#111").text(groupNames[0]);
leg.append("circle").attr("cx", 489).attr("cy", 1699.5).attr("r", 8).attr("fill", green);
leg.append("text").attr("x", 509).attr("y", 1707).attr("font-size", 21).attr("font-weight", "bold").attr("fill", "#111").text(groupNames[1]);
</script>
</body>
</html>
